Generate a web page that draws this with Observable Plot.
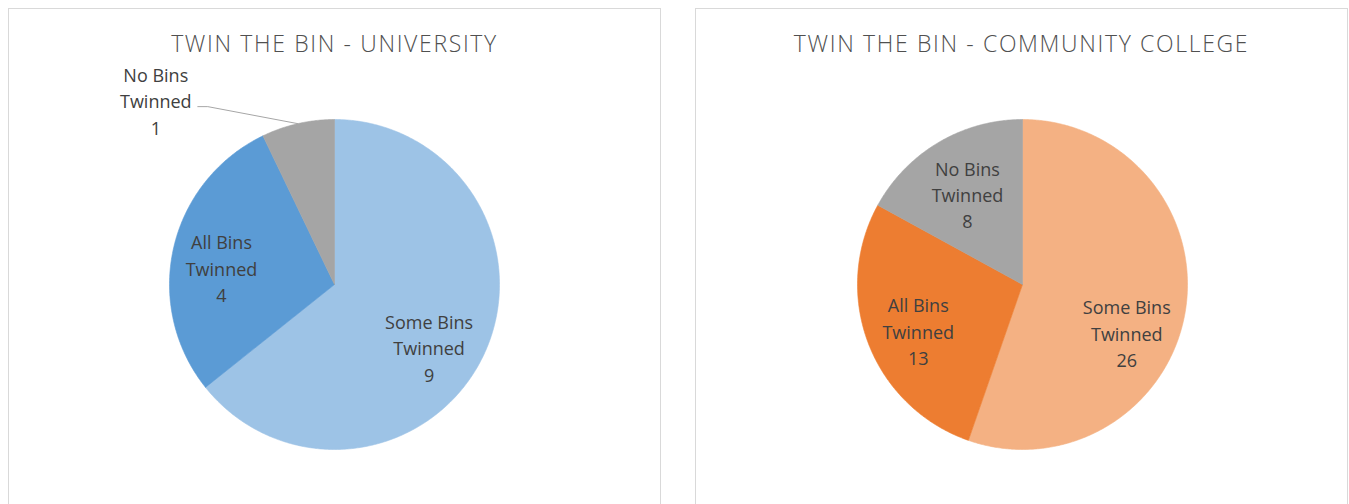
<!DOCTYPE html>
<html><head><meta charset="utf-8">
<script src="https://cdn.jsdelivr.net/npm/d3@7"></script>
<script src="https://cdn.jsdelivr.net/npm/@observablehq/plot@0.6"></script>
<style>
body{margin:0;width:1349px;height:504px;overflow:hidden;background:#fff;font-family:"Open Sans",sans-serif;}
.panel{position:absolute;top:8px;width:651px;height:520px;border:1px solid #D9D9D9;background:#fff;overflow:hidden;}
.title{position:absolute;left:0;right:0;top:18px;text-align:center;font-size:23px;font-weight:300;letter-spacing:1.65px;color:#505050;white-space:nowrap;}
</style></head><body>
<div id="p1" class="panel" style="left:8px"></div>
<div id="p2" class="panel" style="left:695px"></div>
<script>
// ---- data ----
const categories = ["Some Bins Twinned", "All Bins Twinned", "No Bins Twinned"];
const labelNames = ["Some Bins\nTwinned", "All Bins\nTwinned", "No Bins\nTwinned"];
const universityValues = [9, 4, 1];
const collegeValues = [26, 13, 8];
const titles = ["TWIN THE BIN - UNIVERSITY", "TWIN THE BIN - COMMUNITY COLLEGE"];

// ---- styles / layout ----
const universityColors = ["#9DC3E6", "#5B9BD5", "#A5A5A5"];
const collegeColors = ["#F4B183", "#ED7D31", "#A5A5A5"];
const R = 165;            // pie radius in px
const W = 651, H = 495;   // svg size
const CY = 275;           // pie centre from svg top
const labelNudge = [      // px nudges like Excel's best-fit placement
  [[-8, 13], [-2, 8], [-142, -24]],
  [[-8, 29], [2, 5], [3, 7]]
];

function pieChart(values, colors, cx, nudges) {
  const total = d3.sum(values);
  let acc = 0;
  const slices = values.map((v, i) => {
    const a0 = acc / total * 2 * Math.PI;
    acc += v;
    const a1 = acc / total * 2 * Math.PI;
    return {cat: categories[i], label: labelNames[i] + "\n" + v, a0, a1, i};
  });
  const pts = [];
  for (const s of slices) {
    pts.push({cat: s.cat, x: 0, y: 0});
    const n = Math.max(2, Math.ceil((s.a1 - s.a0) / (Math.PI / 360)));
    for (let k = 0; k <= n; k++) {
      const a = s.a0 + (s.a1 - s.a0) * k / n;
      pts.push({cat: s.cat, x: Math.sin(a), y: Math.cos(a)});
    }
    pts.push({cat: s.cat, x: 0, y: 0});
  }
  const inside = [], outside = [], leaders = [];
  for (const s of slices) {
    const m = (s.a0 + s.a1) / 2;
    const [nx, ny] = nudges[s.i];
    if (s.a1 - s.a0 < 40 * Math.PI / 180) {
      const ax = Math.sin(m), ay = Math.cos(m);
      outside.push({label: s.label, x: ax + nx / R, y: ay - ny / R});
      leaders.push({x: ax, y: ay, g: s.cat});
      leaders.push({x: ax - 90 / R, y: ay + 17 / R, g: s.cat});
      leaders.push({x: ax - 100 / R, y: ay + 17 / R, g: s.cat});
    } else {
      const r = 0.69;
      inside.push({label: s.label, x: r * Math.sin(m) + nx / R, y: r * Math.cos(m) - ny / R});
    }
  }
  const labels = inside.concat(outside);
  return Plot.plot({
    width: W, height: H, margin: 0,
    x: {domain: [-cx / R, (W - cx) / R], axis: null},
    y: {domain: [-(H - CY) / R, CY / R], axis: null},
    color: {domain: categories, range: colors},
    style: {fontFamily: "'Open Sans', sans-serif", background: "transparent", overflow: "visible"},
    marks: [
      Plot.line(pts, {x: "x", y: "y", z: "cat", fill: "cat", stroke: "cat", strokeWidth: 0.6, curve: "linear"}),
      Plot.line(leaders, {x: "x", y: "y", z: "g", stroke: "#A6A6A6", strokeWidth: 1}),
      Plot.text(labels, {x: "x", y: "y", text: "label", fontSize: 18, lineHeight: 1.47, fill: "#404040", textAnchor: "middle"})
    ]
  });
}

function addPanel(id, title, values, colors, cx, nudges) {
  const p = document.getElementById(id);
  p.appendChild(pieChart(values, colors, cx, nudges));
  const t = document.createElement("div");
  t.className = "title";
  t.textContent = title;
  p.appendChild(t);
}
addPanel("p1", titles[0], universityValues, universityColors, 325, labelNudge[0]);
addPanel("p2", titles[1], collegeValues, collegeColors, 326, labelNudge[1]);
</script>
</body></html>
